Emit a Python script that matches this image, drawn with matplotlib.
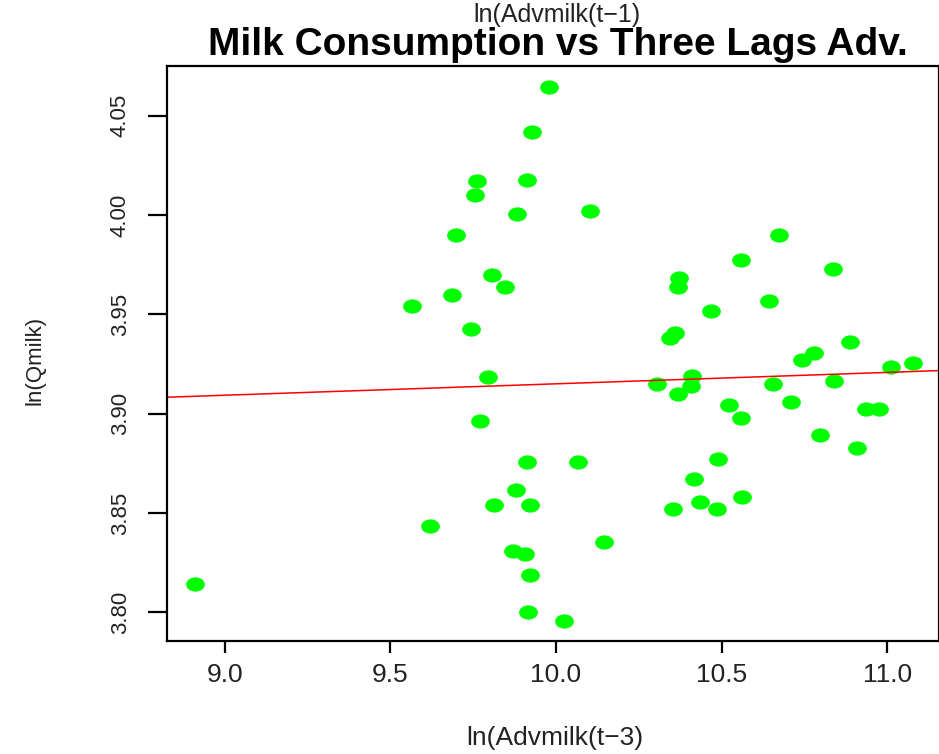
import matplotlib
matplotlib.use('Agg')
import matplotlib.pyplot as plt
from matplotlib.path import Path
from matplotlib.transforms import Affine2D

plt.rcParams['font.family'] = ['Liberation Sans', 'DejaVu Sans']

# ln(Advmilk(t-3)) and ln(Qmilk)
adv_lag3 = [8.911, 9.566, 9.619, 9.685, 9.697, 9.742, 9.754, 9.760, 9.772, 9.796,
            9.808, 9.812, 9.845, 9.869, 9.879, 9.881, 9.905, 9.911, 9.911, 9.921,
            9.921, 9.915, 9.929, 9.978, 10.025, 10.065, 10.102, 10.145, 10.306, 10.344,
            10.360, 10.353, 10.367, 10.372, 10.367, 10.410, 10.407, 10.417, 10.435, 10.468,
            10.486, 10.490, 10.522, 10.558, 10.559, 10.561, 10.644, 10.655, 10.674, 10.710,
            10.743, 10.779, 10.798, 10.836, 10.839, 10.889, 10.909, 10.937, 10.976, 11.012,
            11.078]
qmilk = [3.8145, 3.9542, 3.8437, 3.9600, 3.9900, 3.9427, 4.0102, 4.0171, 3.8964, 3.9187,
         3.9699, 3.8543, 3.9637, 3.8311, 3.8618, 4.0006, 3.8295, 3.8759, 4.0177, 3.8543,
         3.8189, 3.8003, 4.0417, 4.0644, 3.7959, 3.8759, 4.0021, 3.8355, 3.9150, 3.9380,
         3.9406, 3.8521, 3.9637, 3.9686, 3.9099, 3.9192, 3.9142, 3.8671, 3.8558, 3.9516,
         3.8521, 3.8774, 3.9045, 3.8978, 3.9773, 3.8580, 3.9570, 3.9150, 3.9900, 3.9061,
         3.9271, 3.9304, 3.8894, 3.9728, 3.9166, 3.9360, 3.8828, 3.9023, 3.9023, 3.9234,
         3.9256]

# fitted line (abline)
fit_intercept = 3.8576
fit_slope = 0.00575

x_ticks = [9.0, 9.5, 10.0, 10.5, 11.0]
y_ticks = [3.80, 3.85, 3.90, 3.95, 4.00, 4.05]

fig = plt.figure(figsize=(9.39, 7.54), dpi=100)
ax = fig.add_axes([0.1779, 0.1503, 0.8226, 0.7622])

# the dots are a bit wider than tall in the original
dot = Path.unit_circle().transformed(Affine2D().scale(1.0, 0.76))
ax.plot(adv_lag3, qmilk, ls='none', marker=dot, ms=13.5, color='#00ff00', mec='none')
ax.axline((0, fit_intercept), slope=fit_slope, color='red', lw=1.1)

ax.set_xlim(8.8255, 11.158)
ax.set_ylim(3.7858, 4.0751)

ax.set_xticks(x_ticks)
ax.set_xticklabels(['%.1f' % t for t in x_ticks], fontsize=19, color='#222222')
ax.set_yticks(y_ticks)
ax.set_yticklabels(['%.2f' % t for t in y_ticks], fontsize=16, rotation=90,
                   va='center', color='#222222')
ax.tick_params(axis='x', length=8.6, width=1.6, pad=7.4)
ax.tick_params(axis='y', length=14, width=1.6, pad=12)
for sp in ax.spines.values():
    sp.set_linewidth(1.6)

ax.set_xlabel('ln(Advmilk(t\u22123)', fontsize=19, color='#222222')
ax.xaxis.set_label_coords(0.5025, -0.1693)
ax.xaxis.label.set_va('center')
ax.set_ylabel('ln(Qmilk)', fontsize=16, color='#222222')
ax.yaxis.set_label_coords(-0.171, 0.488)
ax.yaxis.label.set_va('center')

ax.set_title('Milk Consumption vs Three Lags Adv.', fontsize=28, fontweight='bold',
             y=1.0052, va='baseline', x=0.5055)
ax.text(0.505, 1.0766, 'ln(Advmilk(t\u22121)', transform=ax.transAxes, fontsize=18,
        ha='center', va='baseline', color='#222222')

fig.savefig('out.png', dpi=100)
